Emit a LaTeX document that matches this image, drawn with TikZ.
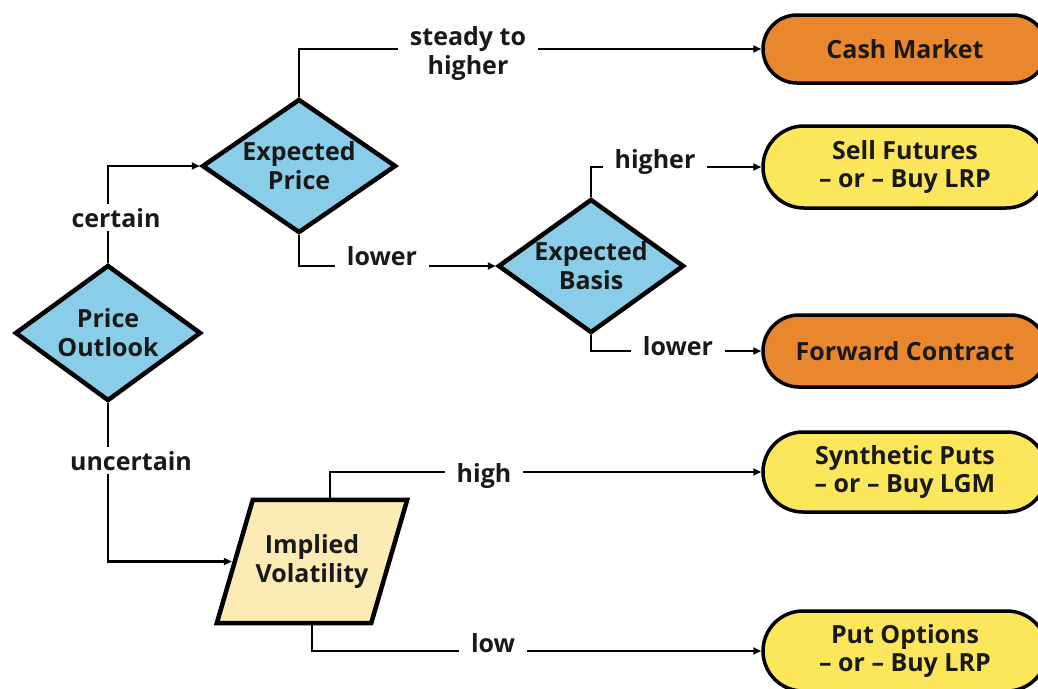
\documentclass[tikz,border=0pt]{standalone}
\usepackage{fontspec}
\setmainfont{Open Sans}
\usetikzlibrary{shapes.geometric,shapes.misc,arrows.meta}
\definecolor{skyfill}{HTML}{8ACDE8}
\definecolor{orangefill}{HTML}{E8872D}
\definecolor{yellowfill}{HTML}{FCE65C}
\definecolor{paleyellow}{HTML}{FCEBB5}
\tikzset{
  every node/.style={font=\bfseries\fontsize{25}{29}\selectfont, text=black!90},
  decision/.style={diamond, draw=black, line width=4.5pt, fill=skyfill, inner sep=0pt},
  inner/.style={align=center, inner sep=0pt},
  ioshape/.style={draw=black, line width=4.5pt, fill=paleyellow, line join=miter},
  terminal/.style={rounded rectangle, draw=black, line width=3.5pt, minimum width=284pt, inner sep=0pt, align=center},
  conn/.style={line width=2.5pt, -{Triangle[length=8pt,width=7pt]}},
  lbl/.style={fill=white, inner xsep=12pt, inner ysep=3pt, align=center},
}
\begin{document}
\begin{tikzpicture}[x=1pt,y=-1pt]
\useasboundingbox (0,0) rectangle (1038,688);
\clip (0,0) rectangle (1038,688);
% decisions
\node[decision, minimum width=186pt, minimum height=136pt] (po) at (108,333) {};
\node[inner] (pot) at (po.center) {Price\\Outlook};
\node[decision, minimum width=194pt, minimum height=134pt] (ep) at (299,166) {};
\node[inner] (ept) at (ep.center) {Expected\\Price};
\node[decision, minimum width=186pt, minimum height=134pt] (eb) at (591,266) {};
\node[inner] (ebt) at (eb.center) {Expected\\Basis};
% implied volatility (parallelogram)
\node[inner, minimum width=190pt, minimum height=123pt] (iv) at (312,561.5) {};
\draw[ioshape] ([xshift=36pt]iv.north west) -- (iv.north east) -- ([xshift=-36pt]iv.south east) -- (iv.south west) -- cycle;
\node[inner] (ivt) at (iv.center) {Implied\\Volatility};
% terminals
\node[terminal, fill=orangefill, minimum height=68pt] (cm) at (905,49) {Cash Market};
\node[terminal, fill=yellowfill, minimum height=82pt] (sf) at (905,167) {Sell Futures\\[-1pt]-- or -- Buy LRP};
\node[terminal, fill=orangefill, minimum height=72pt] (fc) at (905,351) {Forward Contract};
\node[terminal, fill=yellowfill, minimum height=80pt] (sp) at (905,472) {Synthetic Puts\\[-1pt]-- or -- Buy LGM};
\node[terminal, fill=yellowfill, minimum height=80pt] (pu) at (905,651) {Put Options\\[-1pt]-- or -- Buy LRP};
% connectors
\draw[conn] (po.north) |- (ep.west);
\draw[conn] (po.south) |- ([xshift=15pt]iv.west);
\draw[conn] (ep.north) |- (cm.west);
\draw[conn] (ep.south) |- (eb.west);
\draw[conn] (eb.north) |- (sf.west);
\draw[conn] (eb.south) |- (fc.west);
\draw[conn] ([xshift=18pt]iv.north) |- (sp.west);
\draw[conn] (iv.south) |- (pu.west);
% labels
\node[lbl, inner xsep=4pt, inner ysep=4pt, anchor=base] (lc) at (116,227) {certain};
\node[lbl, inner xsep=4pt, inner ysep=4pt, anchor=base] (lu) at (131,470) {uncertain};
\node[lbl, inner ysep=0pt] (ls) at (468,54) {steady to\\higher};
\node[lbl, anchor=base] (ll1) at (382,265) {lower};
\node[lbl, anchor=base] (lh1) at (655,168) {higher};
\node[lbl, anchor=base] (ll2) at (678,355) {lower};
\node[lbl, anchor=base] (lh2) at (484,482) {high};
\node[lbl, anchor=base] (lo2) at (493,652) {low};
\end{tikzpicture}
\end{document}
